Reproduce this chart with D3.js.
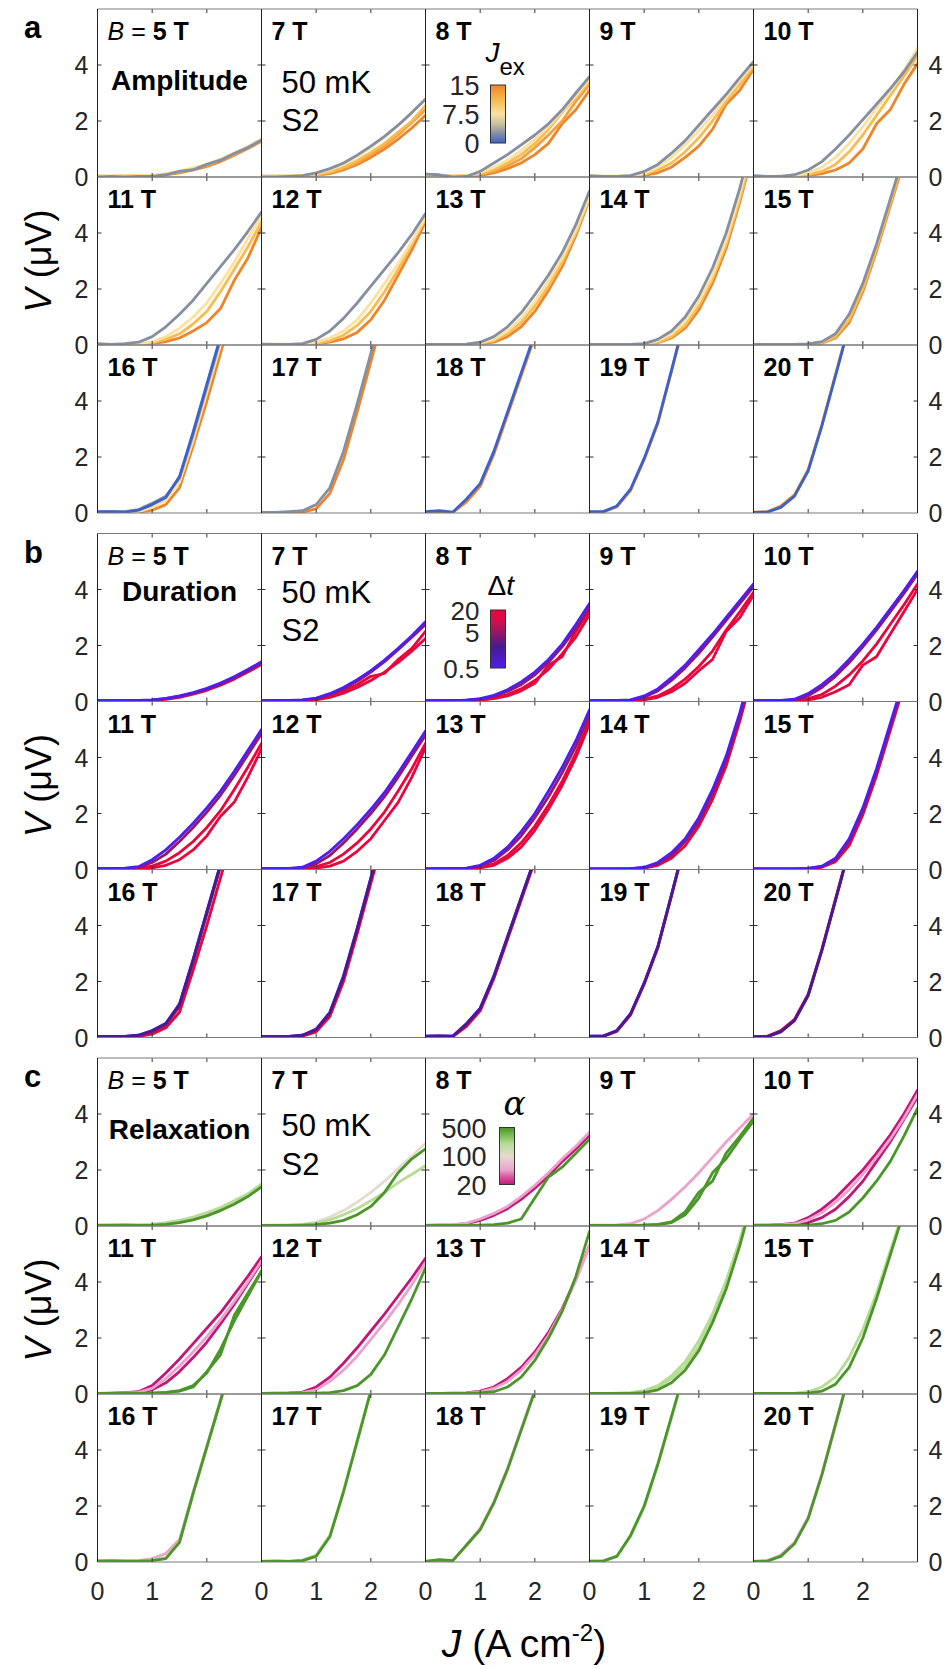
<!DOCTYPE html>
<html>
<head>
<meta charset="utf-8">
<script src="https://cdn.jsdelivr.net/npm/d3@7"></script>
<style>
  body { margin: 0; background: #fff; }
  svg { display: block; font-family: "Liberation Sans", Arial, Helvetica, sans-serif; }
</style>
</head>
<body>
<svg id="fig" width="950" height="1669"></svg>
<script>
// ---- data ----
const fields = [5, 7, 8, 9, 10, 11, 12, 13, 14, 15, 16, 17, 18, 19, 20];
const jGrid = [0, 0.25, 0.5, 0.75, 1, 1.25, 1.5, 1.75, 2, 2.25, 2.5, 2.75, 3];
const xTicks = [0, 1, 2];
const yTicks = [0, 2, 4];
const blockLetters = ['a', 'b', 'c'];
const blockTitles = ['Amplitude', 'Duration', 'Relaxation'];

// each panel: list of [parameter, V values on jGrid]
const amplitudeCurves = [
  [[15,[0.03,0.02,0.04,0.03,0.04,0.08,0.15,0.25,0.38,0.55,0.78,1.02,1.28]],
   [11,[0.02,0.03,0.03,0.04,0.05,0.1,0.18,0.3,0.42,0.6,0.82,1.06,1.32]],
   [7.5,[0.04,0.03,0.05,0.04,0.06,0.12,0.22,0.33,0.46,0.64,0.86,1.1,1.36]],
   [2.5,[0,0.02,0,0.02,0.02,0.08,0.2,0.26,0.45,0.6,0.84,1.05,1.32]]],
  [[15,[0.02,0.03,0.02,0.04,0.06,0.12,0.25,0.45,0.7,1.0,1.35,1.75,2.2]],
   [13,[0.03,0.02,0.03,0.04,0.07,0.15,0.3,0.5,0.8,1.12,1.5,1.95,2.4]],
   [11,[0.03,0.02,0.03,0.05,0.08,0.18,0.35,0.58,0.88,1.2,1.6,2.0,2.55]],
   [7.5,[0.02,0.02,0.04,0.06,0.12,0.25,0.45,0.72,1.05,1.42,1.85,2.3,2.8]],
   [2.5,[0,0,0.02,0.05,0.15,0.3,0.5,0.78,1.1,1.45,1.85,2.3,2.78]]],
  [[15,[0.02,0.02,0.03,0.03,0.06,0.15,0.3,0.5,0.8,1.2,1.9,2.4,3.1]],
   [13,[0.03,0.02,0.02,0.04,0.1,0.2,0.4,0.65,1.05,1.5,2.0,2.7,3.3]],
   [11,[0.02,0.03,0.03,0.05,0.12,0.25,0.5,0.8,1.2,1.7,2.3,2.85,3.4]],
   [7.5,[0.03,0.02,0.03,0.05,0.15,0.35,0.6,0.95,1.35,1.8,2.35,2.9,3.5]],
   [2.5,[0.1,0.08,0,0.02,0.2,0.5,0.8,1.15,1.5,1.9,2.4,3.0,3.58]]],
  [[15,[0.02,0.02,0.02,0.03,0.06,0.15,0.35,0.7,1.1,1.7,2.6,3.1,3.85]],
   [11,[0.02,0.03,0.02,0.04,0.1,0.25,0.5,0.9,1.4,2.0,2.7,3.3,3.95]],
   [7.5,[0.03,0.02,0.03,0.05,0.12,0.35,0.7,1.15,1.65,2.2,2.85,3.45,4.05]],
   [2.5,[0.05,0.02,0.02,0.05,0.2,0.45,0.85,1.3,1.85,2.4,2.95,3.55,4.12]]],
  [[15,[0.02,0.02,0.02,0.02,0.05,0.12,0.25,0.5,1.0,1.9,2.4,3.3,4.05]],
   [11,[0.02,0.02,0.03,0.03,0.08,0.2,0.45,0.9,1.5,2.2,2.9,3.6,4.3]],
   [7.5,[0.03,0.02,0.02,0.05,0.15,0.35,0.7,1.2,1.8,2.45,3.1,3.8,4.6]],
   [2.5,[0.05,0.02,0.02,0.08,0.25,0.55,1.0,1.5,2.05,2.6,3.15,3.75,4.45]]],
  [[15,[0.02,0.02,0.02,0.02,0.05,0.12,0.25,0.5,0.8,1.3,2.3,3.1,4.2]],
   [11,[0.02,0.02,0.02,0.03,0.08,0.2,0.4,0.75,1.2,1.9,2.7,3.5,4.4]],
   [7.5,[0.03,0.02,0.03,0.05,0.12,0.3,0.6,1.0,1.5,2.2,2.95,3.8,4.6]],
   [2.5,[0.05,0.02,0.05,0.1,0.3,0.65,1.1,1.6,2.2,2.8,3.4,4.05,4.75]]],
  [[15,[0.02,0.02,0.02,0.02,0.04,0.1,0.22,0.45,0.9,1.6,2.5,3.4,4.4]],
   [11,[0.02,0.03,0.02,0.03,0.06,0.15,0.35,0.7,1.2,1.9,2.7,3.6,4.5]],
   [7.5,[0.02,0.02,0.03,0.04,0.1,0.25,0.5,0.9,1.5,2.2,2.9,3.7,4.55]],
   [2.5,[0.03,0.02,0.02,0.05,0.2,0.5,0.95,1.5,2.1,2.7,3.3,3.95,4.7]]],
  [[15,[0.02,0.02,0.02,0.02,0.05,0.1,0.3,0.65,1.2,1.95,2.8,3.9,5.2]],
   [11,[0.02,0.02,0.02,0.03,0.06,0.15,0.4,0.8,1.4,2.1,2.95,4.0,5.25]],
   [7.5,[0.02,0.02,0.02,0.03,0.08,0.2,0.5,0.95,1.55,2.3,3.1,4.1,5.3]],
   [2.5,[0.02,0.02,0.02,0.03,0.1,0.3,0.65,1.15,1.8,2.5,3.3,4.3,5.5]]],
  [[15,[0.02,0.02,0.02,0.02,0.03,0.08,0.25,0.6,1.25,2.2,3.45,5.1,7.0]],
   [11,[0.02,0.02,0.02,0.02,0.03,0.1,0.3,0.7,1.4,2.35,3.6,5.2,7.1]],
   [7.5,[0.02,0.02,0.02,0.02,0.04,0.15,0.4,0.85,1.55,2.5,3.75,5.4,7.3]],
   [2.5,[0.02,0.02,0.02,0.02,0.05,0.2,0.5,1.0,1.75,2.75,4.0,5.6,7.5]]],
  [[15,[0.02,0.02,0.02,0.02,0.03,0.06,0.25,0.8,1.9,3.35,4.95,6.55,8.2]],
   [11,[0.02,0.02,0.02,0.02,0.03,0.08,0.3,0.9,2.0,3.45,5.05,6.65,8.3]],
   [2.5,[0.02,0.02,0.02,0.02,0.04,0.12,0.4,1.1,2.2,3.6,5.2,6.8,8.4]]],
  [[15,[0.02,0.02,0.02,0.03,0.1,0.3,0.9,2.4,4.0,5.7,7.4,9.0,10.6]],
   [7.5,[0.02,0.02,0.03,0.05,0.2,0.45,1.1,2.6,4.3,6.0,7.7,9.4,11]],
   [2.5,[0.03,0.05,0.05,0.12,0.35,0.6,1.25,2.8,4.5,6.2,7.9,9.6,11.3]],
   [0,[0.05,0.05,0.03,0.1,0.3,0.55,1.3,2.9,4.6,6.3,8.0,9.7,11.4]]],
  [[15,[0.02,0.02,0.02,0.03,0.15,0.7,1.9,3.6,5.4,7.2,9.0,10.8,12.6]],
   [2.5,[0.02,0.02,0.05,0.08,0.3,0.9,2.2,3.9,5.7,7.5,9.3,11,13]]],
  [[15,[0.02,0.03,0.02,0.4,0.95,2.1,3.5,4.9,6.3,7.7,9.1,10.5,11.9]],
   [0,[0.05,0.08,0.03,0.5,1.05,2.2,3.6,5.0,6.4,7.8,9.2,10.6,12]]],
  [[15,[0.03,0.04,0.22,0.8,1.9,3.2,5.05,6.95,8.85,10.75,12.65,14.55,16.45]],
   [0,[0.05,0.05,0.25,0.85,1.95,3.25,5.1,7.0,8.9,10.8,12.7,14.6,16.5]]],
  [[15,[0.03,0.04,0.25,0.65,1.55,3.15,4.95,6.75,8.55,10.35,12.15,13.95,15.75]],
   [0,[0.02,0.03,0.2,0.6,1.5,3.1,4.9,6.7,8.5,10.3,12.1,13.9,15.7]]]
];

const durationCurves = [
  [[20,[0.02,0.03,0.02,0.03,0.04,0.08,0.15,0.26,0.4,0.58,0.8,1.05,1.32]],
   [5,[0.03,0.02,0.03,0.04,0.05,0.1,0.18,0.3,0.44,0.62,0.85,1.1,1.38]],
   [0.5,[0.03,0.03,0.03,0.04,0.06,0.11,0.2,0.32,0.47,0.66,0.88,1.14,1.42]]],
  [[20,[0.02,0.02,0.03,0.04,0.06,0.15,0.3,0.5,0.75,1.05,1.4,1.8,2.25]],
   [20,[0.03,0.02,0.02,0.04,0.08,0.2,0.38,0.6,0.9,1.0,1.5,1.9,2.5]],
   [5,[0.02,0.03,0.03,0.05,0.1,0.25,0.45,0.72,1.05,1.42,1.85,2.3,2.75]],
   [0.5,[0.03,0.03,0.04,0.06,0.12,0.28,0.5,0.78,1.1,1.48,1.9,2.35,2.85]]],
  [[20,[0.02,0.02,0.03,0.04,0.06,0.12,0.25,0.45,0.75,1.15,1.7,2.3,3.1]],
   [20,[0.03,0.02,0.02,0.03,0.05,0.1,0.2,0.38,0.65,1.3,1.6,2.5,3.25]],
   [5,[0.02,0.03,0.03,0.05,0.08,0.18,0.36,0.6,0.95,1.4,1.95,2.6,3.35]],
   [0.5,[0.03,0.03,0.04,0.05,0.1,0.22,0.42,0.7,1.05,1.5,2.05,2.75,3.5]]],
  [[20,[0.02,0.02,0.02,0.03,0.06,0.15,0.35,0.65,1.1,1.5,2.5,3.0,3.8]],
   [20,[0.02,0.02,0.03,0.04,0.08,0.2,0.45,0.8,1.25,1.8,2.55,3.2,3.9]],
   [5,[0.02,0.03,0.03,0.05,0.15,0.38,0.75,1.2,1.72,2.3,2.9,3.5,4.1]],
   [0.5,[0.03,0.03,0.04,0.06,0.2,0.45,0.85,1.3,1.85,2.4,3.0,3.6,4.2]]],
  [[20,[0.02,0.02,0.02,0.03,0.06,0.15,0.35,0.6,1.3,1.6,2.4,3.2,4.0]],
   [20,[0.02,0.02,0.03,0.04,0.1,0.25,0.55,0.95,1.45,2.05,2.75,3.45,4.2]],
   [5,[0.02,0.03,0.03,0.06,0.2,0.5,0.9,1.38,1.95,2.55,3.2,3.85,4.55]],
   [0.5,[0.03,0.03,0.04,0.08,0.28,0.6,1.0,1.5,2.05,2.65,3.3,3.95,4.65]]],
  [[20,[0.02,0.02,0.02,0.03,0.06,0.15,0.35,0.7,1.2,1.9,2.4,3.3,4.3]],
   [20,[0.02,0.02,0.03,0.05,0.12,0.3,0.6,1.0,1.5,2.1,2.85,3.65,4.5]],
   [5,[0.02,0.03,0.03,0.07,0.25,0.55,1.0,1.5,2.05,2.65,3.35,4.1,4.85]],
   [0.5,[0.03,0.03,0.05,0.1,0.35,0.7,1.15,1.65,2.2,2.8,3.5,4.25,5.0]]],
  [[20,[0.02,0.02,0.02,0.03,0.05,0.12,0.3,0.65,1.1,1.75,2.4,3.3,4.35]],
   [20,[0.02,0.02,0.03,0.04,0.1,0.25,0.55,0.95,1.45,2.05,2.8,3.6,4.5]],
   [5,[0.02,0.03,0.03,0.06,0.2,0.5,0.95,1.45,2.0,2.6,3.3,4.05,4.8]],
   [0.5,[0.03,0.03,0.04,0.08,0.3,0.65,1.1,1.6,2.15,2.75,3.45,4.2,4.95]]],
  [[20,[0.02,0.02,0.02,0.03,0.06,0.15,0.4,0.8,1.4,2.15,3.0,4.0,5.2]],
   [20,[0.02,0.02,0.02,0.03,0.08,0.2,0.5,0.95,1.55,2.3,3.15,4.15,5.3]],
   [5,[0.02,0.02,0.03,0.04,0.12,0.32,0.7,1.2,1.85,2.6,3.45,4.4,5.5]],
   [0.5,[0.02,0.03,0.03,0.05,0.15,0.4,0.8,1.35,2.0,2.8,3.65,4.6,5.7]]],
  [[20,[0.02,0.02,0.02,0.03,0.05,0.15,0.4,0.85,1.55,2.5,3.7,5.3,7.1]],
   [5,[0.02,0.02,0.02,0.03,0.06,0.2,0.5,1.0,1.7,2.7,3.9,5.45,7.25]],
   [0.5,[0.02,0.02,0.02,0.03,0.08,0.25,0.6,1.1,1.85,2.85,4.05,5.6,7.4]]],
  [[20,[0.02,0.02,0.02,0.02,0.03,0.08,0.28,0.85,1.95,3.35,4.95,6.55,8.2]],
   [5,[0.02,0.02,0.02,0.02,0.04,0.1,0.35,1.0,2.1,3.5,5.1,6.7,8.3]],
   [0.5,[0.02,0.02,0.02,0.02,0.04,0.12,0.4,1.1,2.2,3.6,5.2,6.8,8.4]]],
  [[20,[0.02,0.02,0.02,0.04,0.12,0.35,0.9,2.4,4.0,5.7,7.4,9.1,10.8]],
   [5,[0.02,0.03,0.03,0.06,0.2,0.45,1.1,2.7,4.4,6.1,7.8,9.5,11.2]],
   [0.5,[0.03,0.03,0.04,0.08,0.25,0.5,1.2,2.8,4.5,6.2,7.9,9.6,11.3]],
   [2,[0.03,0.03,0.04,0.08,0.24,0.5,1.18,2.78,4.48,6.18,7.88,9.58,11.28]]],
  [[20,[0.02,0.02,0.03,0.05,0.2,0.75,2.0,3.7,5.5,7.3,9.1,10.9,12.7]],
   [0.5,[0.03,0.03,0.04,0.08,0.3,0.9,2.2,3.9,5.7,7.5,9.3,11,13]],
   [2,[0.03,0.03,0.04,0.08,0.28,0.88,2.18,3.88,5.68,7.48,9.28,11,13]]],
  [[20,[0.03,0.04,0.03,0.4,0.95,2.1,3.5,4.9,6.3,7.7,9.1,10.5,11.9]],
   [0.5,[0.05,0.06,0.05,0.5,1.05,2.2,3.6,5.0,6.4,7.8,9.2,10.6,12]],
   [2,[0.05,0.06,0.05,0.48,1.03,2.18,3.58,4.98,6.38,7.78,9.18,10.58,12]]],
  [[20,[0.03,0.04,0.22,0.8,1.9,3.2,5.05,6.95,8.85,10.75,12.65,14.55,16.45]],
   [0.5,[0.05,0.05,0.25,0.85,1.95,3.25,5.1,7.0,8.9,10.8,12.7,14.6,16.5]],
   [2,[0.05,0.05,0.24,0.84,1.94,3.24,5.09,6.99,8.89,10.79,12.69,14.59,16.49]]],
  [[20,[0.03,0.04,0.25,0.65,1.55,3.15,4.95,6.75,8.55,10.35,12.15,13.95,15.75]],
   [0.5,[0.02,0.03,0.2,0.6,1.5,3.1,4.9,6.7,8.5,10.3,12.1,13.9,15.7]],
   [2,[0.02,0.03,0.21,0.61,1.51,3.11,4.91,6.71,8.51,10.31,12.11,13.91,15.71]]]
];

const relaxationCurves = [
  [[45,[0.03,0.05,0.04,0.03,0.05,0.1,0.18,0.3,0.45,0.62,0.85,1.1,1.45]],
   [200,[0.04,0.03,0.05,0.04,0.06,0.12,0.2,0.32,0.48,0.66,0.9,1.15,1.5]],
   [500,[0.02,0.02,0.03,0.02,0.03,0.06,0.12,0.22,0.36,0.55,0.78,1.05,1.4]]],
  [[100,[0.03,0.03,0.04,0.06,0.15,0.32,0.55,0.85,1.2,1.6,2.05,2.5,2.95]],
   [200,[0.02,0.03,0.03,0.05,0.1,0.22,0.4,0.62,0.9,1.2,1.55,1.85,2.15]],
   [500,[0.02,0.02,0.02,0.03,0.05,0.1,0.2,0.4,0.7,1.2,1.9,2.4,2.75]]],
  [[20,[0.02,0.03,0.04,0.08,0.2,0.38,0.62,0.95,1.35,1.8,2.3,2.75,3.25]],
   [45,[0.03,0.04,0.05,0.1,0.25,0.45,0.7,1.05,1.45,1.9,2.4,2.85,3.35]],
   [500,[0.02,0.02,0.02,0.02,0.03,0.05,0.1,0.25,1.0,1.75,2.1,2.6,3.1]]],
  [[45,[0.03,0.03,0.04,0.08,0.25,0.55,0.95,1.4,1.9,2.45,3.0,3.5,4.0]],
   [500,[0.02,0.02,0.02,0.02,0.03,0.05,0.12,0.4,1.0,1.9,2.4,3.1,3.75]],
   [500,[0.02,0.02,0.02,0.02,0.03,0.06,0.15,0.5,1.2,1.6,2.6,3.2,3.85]]],
  [[20,[0.03,0.03,0.05,0.1,0.3,0.6,1.0,1.5,2.0,2.6,3.25,4.0,4.85]],
   [20,[0.02,0.02,0.03,0.05,0.12,0.3,0.6,1.05,1.6,2.3,3.0,3.8,4.6]],
   [45,[0.02,0.03,0.04,0.08,0.22,0.48,0.85,1.3,1.85,2.45,3.1,3.85,4.7]],
   [500,[0.02,0.02,0.02,0.02,0.03,0.08,0.2,0.5,1.0,1.6,2.3,3.2,4.2]]],
  [[20,[0.02,0.03,0.05,0.08,0.3,0.75,1.25,1.8,2.35,2.9,3.55,4.2,4.9]],
   [20,[0.02,0.02,0.03,0.05,0.15,0.4,0.8,1.3,1.85,2.5,3.2,3.95,4.7]],
   [45,[0.02,0.02,0.04,0.06,0.2,0.55,1.0,1.5,2.05,2.65,3.3,4.0,4.75]],
   [500,[0.02,0.02,0.02,0.02,0.03,0.05,0.1,0.25,0.8,1.4,2.8,3.6,4.4]],
   [500,[0.02,0.02,0.02,0.02,0.03,0.06,0.12,0.3,0.75,1.6,2.6,3.5,4.37]]],
  [[20,[0.02,0.03,0.04,0.07,0.25,0.6,1.1,1.65,2.25,2.85,3.5,4.15,4.85]],
   [45,[0.02,0.02,0.03,0.05,0.15,0.45,0.85,1.35,1.95,2.55,3.2,3.9,4.7]],
   [500,[0.02,0.02,0.02,0.02,0.03,0.05,0.12,0.3,0.7,1.4,2.4,3.4,4.5]]],
  [[20,[0.02,0.02,0.03,0.04,0.1,0.25,0.55,0.95,1.5,2.2,3.05,4.1,5.3]],
   [45,[0.02,0.02,0.02,0.03,0.08,0.2,0.45,0.85,1.4,2.1,3.0,4.05,5.3]],
   [500,[0.02,0.02,0.02,0.02,0.04,0.08,0.25,0.6,1.2,2.0,2.95,4.2,5.8]]],
  [[200,[0.02,0.02,0.03,0.05,0.12,0.3,0.65,1.15,1.9,2.85,4.05,5.5,7.3]],
   [200,[0.02,0.02,0.02,0.04,0.1,0.25,0.55,1.0,1.7,2.7,3.9,5.4,7.2]],
   [500,[0.02,0.02,0.02,0.02,0.05,0.15,0.4,0.85,1.55,2.55,3.75,5.3,7.1]]],
  [[200,[0.02,0.02,0.02,0.03,0.08,0.25,0.6,1.3,2.3,3.6,5.1,6.6,8.2]],
   [500,[0.02,0.02,0.02,0.02,0.03,0.1,0.35,0.95,2.0,3.4,4.95,6.5,8.1]]],
  [[45,[0.05,0.05,0.04,0.05,0.12,0.3,0.8,2.5,4.15,5.8,7.45,9.1,10.75]],
   [200,[0.04,0.05,0.03,0.04,0.08,0.15,0.72,2.45,4.1,5.75,7.4,9.05,10.7]],
   [500,[0.03,0.04,0.03,0.03,0.05,0.12,0.7,2.45,4.1,5.75,7.4,9.05,10.7]]],
  [[200,[0.03,0.04,0.03,0.07,0.25,0.95,2.55,4.35,6.15,7.95,9.75,11.55,13.35]],
   [500,[0.02,0.03,0.02,0.05,0.2,0.9,2.5,4.3,6.1,7.9,9.7,11.5,13.3]]],
  [[45,[0.03,0.05,0.06,0.62,1.2,2.15,3.35,4.75,6.15,7.55,8.95,10.35,11.75]],
   [500,[0.02,0.08,0.05,0.6,1.15,2.1,3.3,4.7,6.1,7.5,8.9,10.3,11.7]]],
  [[200,[0.03,0.04,0.22,0.9,1.95,3.45,5.15,6.85,8.55,10.25,11.95,13.65,15.35]],
   [500,[0.03,0.03,0.2,0.95,2.0,3.5,5.2,6.9,8.6,10.3,12,13.7,15.4]]],
  [[45,[0.03,0.04,0.25,0.7,1.6,3.15,4.95,6.75,8.55,10.35,12.15,13.95,15.75]],
   [500,[0.02,0.03,0.2,0.65,1.55,3.1,4.9,6.7,8.5,10.3,12.1,13.9,15.7]]]
];

// colour maps: [parameter, colour]
const amplitudeStops = [[0,'#3b62cc'],[2.5,'#868ea2'],[5,'#c9c1a0'],[7.5,'#fbe2a2'],[11,'#f8bc52'],[15,'#ef8428']];
const durationStops = [[0.5,'#4c1ff0'],[2,'#4a1a8c'],[5,'#9c1663'],[10,'#d80c4c'],[20,'#e8063c']];
const relaxationStops = [[20,'#c2177a'],[32,'#dc5ca4'],[45,'#eba2cb'],[100,'#e4dcd0'],[200,'#b6dc96'],[300,'#84c05c'],[500,'#4a9628']];
const amplitudeTicks = [0, 7.5, 15];
const durationTicks = [0.5, 5, 20];
const relaxationTicks = [20, 100, 500];

// ---- layout ----
const W = 164, H = 168;
const left0 = 97.5;
const blockTops = [9, 533.5, 1058];
// baselines (relative to block top) of the texts in panels 1 and 2
const titleY = [81, 67, 81];
const tempY = [84, 69, 78];
const sampleY = [122, 107, 117];

const svg = d3.select('#fig');
const x = d3.scaleLinear().domain([0, 3]).range([0, W]);
const y = d3.scaleLinear().domain([0, 6]).range([H, 0]);
const line = d3.line().x((d, i) => x(jGrid[i])).y(d => y(d));

function colorScale(stops, log) {
  return (log ? d3.scaleLog() : d3.scaleLinear())
    .domain(stops.map(d => d[0])).range(stops.map(d => d[1]))
    .interpolate(d3.interpolateRgb).clamp(true);
}
const colA = colorScale(amplitudeStops, false);
const colB = colorScale(durationStops, true);
const colC = colorScale(relaxationStops, true);

const blocks = [
  {curves: amplitudeCurves, color: colA, order: (a, b) => b[0] - a[0]},
  {curves: durationCurves, color: colB, order: (a, b) => b[0] - a[0]},
  {curves: relaxationCurves, color: colC, order: (a, b) => a[0] - b[0]}
];

const defs = svg.append('defs');
defs.append('clipPath').attr('id', 'panelClip')
  .append('rect').attr('x', 0).attr('y', 0).attr('width', W).attr('height', H);

blocks.forEach((blk, bi) => {
  const top = blockTops[bi];
  const g = svg.append('g').attr('class', 'block');

  fields.forEach((f, k) => {
    const col = k % 5, row = Math.floor(k / 5);
    const px = left0 + col * W, py = top + row * H;
    const p = g.append('g').attr('transform', `translate(${px},${py})`);

    // curves (order so the colour that sits on top in the figure is drawn last)
    let curves = blk.curves[k].slice().sort(blk.order);
    if (bi === 1 && row === 2) curves = curves.filter(c => c[0] !== 2).concat(curves.filter(c => c[0] === 2));
    p.append('g').attr('clip-path', 'url(#panelClip)')
      .selectAll('path').data(curves).enter().append('path')
      .attr('d', d => line(d[1]))
      .attr('fill', 'none')
      .attr('stroke', d => blk.color(d[0]))
      .attr('stroke-width', 2.8)
      .attr('stroke-linejoin', 'round')
      .attr('stroke-linecap', 'round');

    // ticks inside on all four sides
    const tk = p.append('g').attr('stroke', '#333').attr('stroke-width', 1);
    [1, 2].forEach(t => {
      tk.append('line').attr('x1', x(t)).attr('x2', x(t)).attr('y1', H).attr('y2', H - 4);
      tk.append('line').attr('x1', x(t)).attr('x2', x(t)).attr('y1', 0).attr('y2', 4);
    });
    [2, 4].forEach(t => {
      tk.append('line').attr('x1', 0).attr('x2', 4).attr('y1', y(t)).attr('y2', y(t));
      tk.append('line').attr('x1', W).attr('x2', W - 4).attr('y1', y(t)).attr('y2', y(t));
    });

    // frame
    p.append('line').attr('x1', 0).attr('x2', W).attr('y1', 0).attr('y2', 0).attr('stroke', '#7a7a7a');
    p.append('line').attr('x1', 0).attr('x2', W).attr('y1', H).attr('y2', H).attr('stroke', '#7a7a7a');
    p.append('line').attr('x1', 0).attr('x2', 0).attr('y1', 0).attr('y2', H).attr('stroke', '#222');
    p.append('line').attr('x1', W).attr('x2', W).attr('y1', 0).attr('y2', H).attr('stroke', '#222');

    // field label
    const lab = p.append('text').attr('x', 10).attr('y', 31).attr('font-size', 25).attr('fill', '#000');
    if (k === 0) {
      lab.append('tspan').attr('font-style', 'italic').text('B');
      lab.append('tspan').text(' = ');
      lab.append('tspan').attr('font-weight', 'bold').text(f + ' T');
    } else {
      lab.attr('font-weight', 'bold').text(f + ' T');
    }

    // tick labels
    if (col === 0) {
      yTicks.forEach(t => p.append('text').attr('x', -9).attr('y', y(t) + 9)
        .attr('text-anchor', 'end').attr('font-size', 25).attr('fill', '#262626').text(t));
    }
    if (col === 4) {
      yTicks.forEach(t => p.append('text').attr('x', W + 11).attr('y', y(t) + 9)
        .attr('text-anchor', 'start').attr('font-size', 25).attr('fill', '#262626').text(t));
    }
    if (bi === 2 && row === 2) {
      xTicks.forEach(t => p.append('text').attr('x', x(t)).attr('y', H + 38)
        .attr('text-anchor', 'middle').attr('font-size', 25).attr('fill', '#262626').text(t));
    }
  });

  // block letter
  svg.append('text').attr('x', 24).attr('y', top + 29).attr('font-size', 31)
    .attr('font-weight', 'bold').text(blockLetters[bi]);

  // title in first panel
  svg.append('text').attr('x', left0 + W / 2).attr('y', top + titleY[bi]).attr('font-size', 28)
    .attr('text-anchor', 'middle').attr('font-weight', 'bold').text(blockTitles[bi]);

  // temperature & sample
  svg.append('text').attr('x', left0 + W + 20).attr('y', top + tempY[bi]).attr('font-size', 31).text('50 mK');
  svg.append('text').attr('x', left0 + W + 20).attr('y', top + sampleY[bi]).attr('font-size', 31).text('S2');

  // y label
  const yl = svg.append('text').attr('transform', `translate(51,${top + 1.5 * H}) rotate(-90)`)
    .attr('text-anchor', 'middle').attr('font-size', 36);
  yl.append('tspan').attr('font-style', 'italic').text('V');
  yl.append('tspan').text(' (\u03bcV)');
});

// ---- colour bars ----
function colorbar(bi, stops, scaleType, ticks, barX, barTop, barH, labelX, cfg) {
  const top = blockTops[bi];
  const px = left0 + 2 * W;
  const s = (scaleType === 'log' ? d3.scaleLog() : d3.scaleLinear())
    .domain([ticks[0], ticks[2]]).range([barH, 0]);
  const gid = 'grad' + bi;
  const grad = defs.append('linearGradient').attr('id', gid)
    .attr('x1', 0).attr('y1', 1).attr('x2', 0).attr('y2', 0);
  stops.forEach(st => grad.append('stop')
    .attr('offset', 1 - s(st[0]) / barH).attr('stop-color', st[1]));
  const g = svg.append('g').attr('transform', `translate(${px},${top})`);
  g.append('rect').attr('x', barX).attr('y', barTop).attr('width', 15).attr('height', barH)
    .attr('fill', `url(#${gid})`).attr('stroke', '#333').attr('stroke-width', 1);
  ticks.forEach(t => g.append('text').attr('x', labelX).attr('y', barTop + s(t) + 10)
    .attr('text-anchor', 'end').attr('font-size', cfg.fs).attr('fill', '#262626').text(t));
  cfg.title(g);
}

colorbar(0, amplitudeStops, 'lin', amplitudeTicks, 65, 76, 58, 54, {fs: 27, title: g => {
  const t = g.append('text').attr('x', 60).attr('y', 53).attr('font-size', 28);
  t.append('tspan').attr('font-style', 'italic').text('J');
  t.append('tspan').attr('dy', 13).attr('font-size', 24).text('ex');
}});
colorbar(1, durationStops, 'log', durationTicks, 65, 76.5, 58, 54, {fs: 26, title: g => {
  const t = g.append('text').attr('x', 62).attr('y', 61).attr('font-size', 28);
  t.append('tspan').text('\u0394');
  t.append('tspan').attr('font-style', 'italic').text('t');
}});
colorbar(2, relaxationStops, 'log', relaxationTicks, 74, 69.5, 57, 61, {fs: 27, title: g => {
  g.append('text').attr('x', 78).attr('y', 57).attr('font-size', 33)
    .attr('font-style', 'italic').attr('font-family', '"DejaVu Serif", serif').text('\u03b1');
}});

// x label
const xl = svg.append('text').attr('x', 524).attr('y', 1657).attr('text-anchor', 'middle').attr('font-size', 39);
xl.append('tspan').attr('font-style', 'italic').text('J');
xl.append('tspan').text(' (A cm');
xl.append('tspan').attr('dy', -16).attr('font-size', 24).text('-2');
xl.append('tspan').attr('dy', 16).text(')');
</script>
</body>
</html>
